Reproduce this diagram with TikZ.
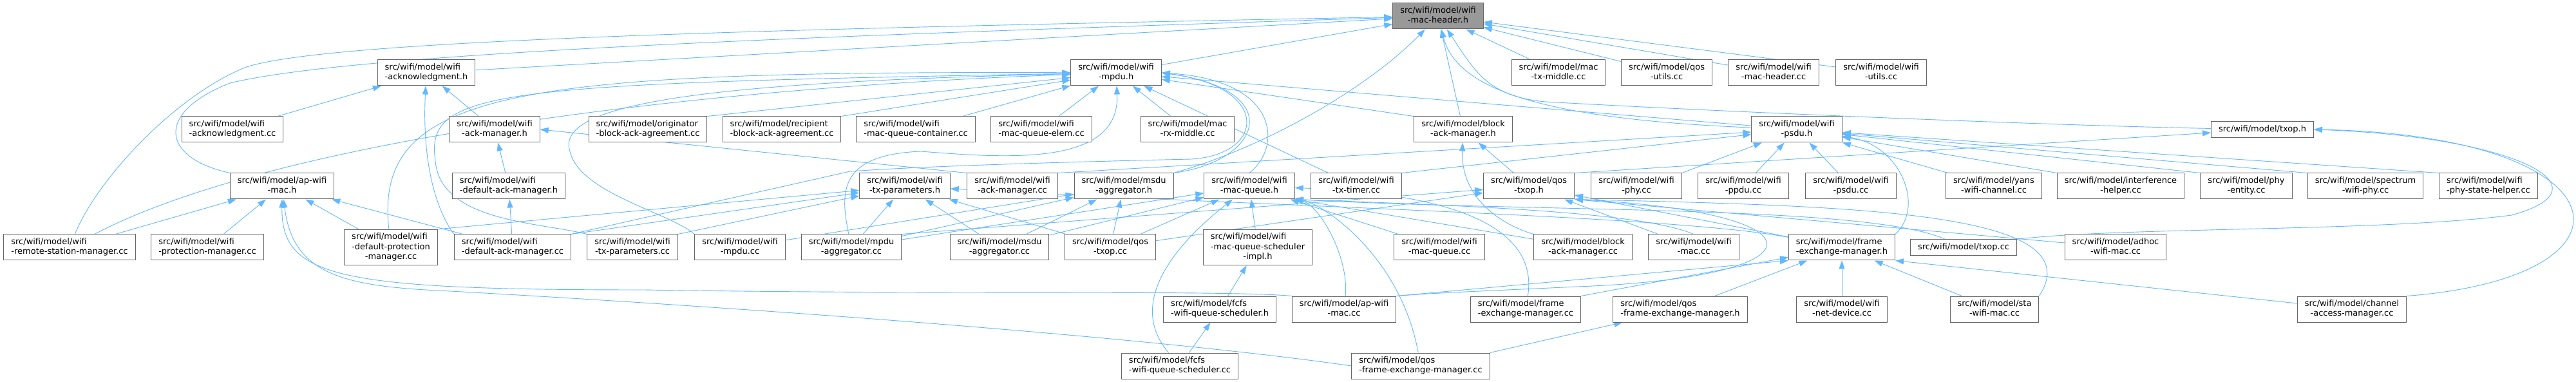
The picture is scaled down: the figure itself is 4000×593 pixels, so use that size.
\documentclass[tikz,border=0pt]{standalone}
\usepackage{fontspec}
\setmainfont{DejaVu Sans}
\usetikzlibrary{arrows.meta,backgrounds}
\definecolor{edgeblue}{HTML}{63B8FF}
\definecolor{boxgray}{HTML}{666666}
\definecolor{rootgray}{HTML}{999999}
\newcommand{\fileone}[1]{\begin{tabular}{@{}l@{}}#1\end{tabular}}
\newcommand{\filetwo}[2]{\begin{tabular}{@{}l@{}}#1\\\multicolumn{1}{@{}c@{}}{#2}\end{tabular}}
\newcommand{\filethree}[3]{\begin{tabular}{@{}l@{}}#1\\#2\\\multicolumn{1}{@{}c@{}}{#3}\end{tabular}}
\tikzset{
  filebox/.style={shape=rectangle,draw=boxgray,fill=white,line width=1pt,inner xsep=11.5pt,inner ysep=4.5pt,font=\fontsize{13}{15.5}\selectfont},
  rootbox/.style={filebox,fill=rootgray},
  dep/.style={draw=edgeblue,line width=0.9pt,{Triangle[length=13pt,width=9pt]}-}
}
\begin{document}
\begin{tikzpicture}[x=1pt,y=-1pt]
        \useasboundingbox (0,0) rectangle (4000,593);
        \node[rootbox] (0) at (2233,25) {\filetwo{src/wifi/model/wifi}{-mac-header.h}};
        \node[filebox] (1) at (662,113) {\filetwo{src/wifi/model/wifi}{-acknowledgment.h}};
        \node[filebox] (2) at (1733,113) {\filetwo{src/wifi/model/wifi}{-mpdu.h}};
        \node[filebox] (3) at (2420,113) {\filetwo{src/wifi/model/mac}{-tx-middle.cc}};
        \node[filebox] (4) at (2588,113) {\filetwo{src/wifi/model/qos}{-utils.cc}};
        \node[filebox] (5) at (2754,113) {\filetwo{src/wifi/model/wifi}{-mac-header.cc}};
        \node[filebox] (6) at (2921,113) {\filetwo{src/wifi/model/wifi}{-utils.cc}};
        \node[filebox] (7) at (361,201) {\filetwo{src/wifi/model/wifi}{-acknowledgment.cc}};
        \node[filebox] (8) at (768,201) {\filetwo{src/wifi/model/wifi}{-ack-manager.h}};
        \node[filebox] (9) at (1006,201) {\filetwo{src/wifi/model/originator}{-block-ack-agreement.cc}};
        \node[filebox] (10) at (1214,201) {\filetwo{src/wifi/model/recipient}{-block-ack-agreement.cc}};
        \node[filebox] (11) at (1422,201) {\filetwo{src/wifi/model/wifi}{-mac-queue-container.cc}};
        \node[filebox] (12) at (1617,201) {\filetwo{src/wifi/model/wifi}{-mac-queue-elem.cc}};
        \node[filebox] (13) at (1844,201) {\filetwo{src/wifi/model/mac}{-rx-middle.cc}};
        \node[filebox] (14) at (2272,201) {\filetwo{src/wifi/model/block}{-ack-manager.h}};
        \node[filebox] (15) at (2790,201) {\filetwo{src/wifi/model/wifi}{-psdu.h}};
        \node[filebox] (16) at (3513,201) {\fileone{src/wifi/model/txop.h}};
        \node[filebox] (17) at (438,289) {\filetwo{src/wifi/model/ap-wifi}{-mac.h}};
        \node[filebox] (18) at (790,289) {\filetwo{src/wifi/model/wifi}{-default-ack-manager.h}};
        \node[filebox] (19) at (1405,289) {\filetwo{src/wifi/model/wifi}{-tx-parameters.h}};
        \node[filebox] (20) at (1572,289) {\filetwo{src/wifi/model/wifi}{-ack-manager.cc}};
        \node[filebox] (21) at (1745,289) {\filetwo{src/wifi/model/msdu}{-aggregator.h}};
        \node[filebox] (22) at (1940,289) {\filetwo{src/wifi/model/wifi}{-mac-queue.h}};
        \node[filebox] (23) at (2106,289) {\filetwo{src/wifi/model/wifi}{-tx-timer.cc}};
        \node[filebox] (24) at (2374,289) {\filetwo{src/wifi/model/qos}{-txop.h}};
        \node[filebox] (25) at (2541,289) {\filetwo{src/wifi/model/wifi}{-phy.cc}};
        \node[filebox] (26) at (2707,289) {\filetwo{src/wifi/model/wifi}{-ppdu.cc}};
        \node[filebox] (27) at (2874,289) {\filetwo{src/wifi/model/wifi}{-psdu.cc}};
        \node[filebox] (28) at (3096,289) {\filetwo{src/wifi/model/yans}{-wifi-channel.cc}};
        \node[filebox] (29) at (3293,289) {\filetwo{src/wifi/model/interference}{-helper.cc}};
        \node[filebox] (30) at (3488,289) {\filetwo{src/wifi/model/phy}{-entity.cc}};
        \node[filebox] (31) at (3673,289) {\filetwo{src/wifi/model/spectrum}{-wifi-phy.cc}};
        \node[filebox] (32) at (3864,289) {\filetwo{src/wifi/model/wifi}{-phy-state-helper.cc}};
        \node[filebox] (33) at (108,384) {\filetwo{src/wifi/model/wifi}{-remote-station-manager.cc}};
        \node[filebox] (34) at (322,384) {\filetwo{src/wifi/model/wifi}{-protection-manager.cc}};
        \node[filebox] (35) at (607,384) {\filethree{src/wifi/model/wifi}{-default-protection}{-manager.cc}};
        \node[filebox] (36) at (796,384) {\filetwo{src/wifi/model/wifi}{-default-ack-manager.cc}};
        \node[filebox] (37) at (982,384) {\filetwo{src/wifi/model/wifi}{-tx-parameters.cc}};
        \node[filebox] (38) at (1149,384) {\filetwo{src/wifi/model/wifi}{-mpdu.cc}};
        \node[filebox] (39) at (1322,384) {\filetwo{src/wifi/model/mpdu}{-aggregator.cc}};
        \node[filebox] (40) at (1552,384) {\filetwo{src/wifi/model/msdu}{-aggregator.cc}};
        \node[filebox] (41) at (1724,384) {\filetwo{src/wifi/model/qos}{-txop.cc}};
        \node[filebox] (42) at (1953,384) {\filethree{src/wifi/model/wifi}{-mac-queue-scheduler}{-impl.h}};
        \node[filebox] (43) at (2235,384) {\filetwo{src/wifi/model/wifi}{-mac-queue.cc}};
        \node[filebox] (44) at (2458,384) {\filetwo{src/wifi/model/block}{-ack-manager.cc}};
        \node[filebox] (45) at (2630,384) {\filetwo{src/wifi/model/wifi}{-mac.cc}};
        \node[filebox] (46) at (2860,384) {\filetwo{src/wifi/model/frame}{-exchange-manager.h}};
        \node[filebox] (47) at (3049,384) {\fileone{src/wifi/model/txop.cc}};
        \node[filebox] (48) at (3285,384) {\filetwo{src/wifi/model/adhoc}{-wifi-mac.cc}};
        \node[filebox] (49) at (1894,480) {\filetwo{src/wifi/model/fcfs}{-wifi-queue-scheduler.h}};
        \node[filebox] (50) at (2087,480) {\filetwo{src/wifi/model/ap-wifi}{-mac.cc}};
        \node[filebox] (51) at (2369,480) {\filetwo{src/wifi/model/frame}{-exchange-manager.cc}};
        \node[filebox] (52) at (2609,480) {\filetwo{src/wifi/model/qos}{-frame-exchange-manager.h}};
        \node[filebox] (53) at (2860,480) {\filetwo{src/wifi/model/wifi}{-net-device.cc}};
        \node[filebox] (54) at (3097,480) {\filetwo{src/wifi/model/sta}{-wifi-mac.cc}};
        \node[filebox] (55) at (3652,480) {\filetwo{src/wifi/model/channel}{-access-manager.cc}};
        \node[filebox] (56) at (1832,568) {\filetwo{src/wifi/model/fcfs}{-wifi-queue-scheduler.cc}};
        \node[filebox] (57) at (2206,568) {\filetwo{src/wifi/model/qos}{-frame-exchange-manager.cc}};
        \begin{scope}[on background layer]
          \fill[white] (0,0) rectangle (4000,593);
          \draw (0) edge[dep] (1);
          \draw (0) edge[dep] (2);
          \draw[dep] (0) .. controls (1200,45) and (500,62) .. (380,105) .. controls (270,150) and (150,280) .. (33);
          \draw[dep] (0) .. controls (1300,55) and (560,80) .. (357,129) .. controls (240,175) and (250,245) .. (17.north west);
          \draw[dep] (0) .. controls (2120,140) and (1960,230) .. (21.north east);
          \draw (0) edge[dep] (14);
          \draw[dep] (0) .. controls (2262,140) and (2400,185) .. (15);
          \draw[dep] (0) .. controls (2290,110) and (2310,150) .. (2400,158) .. controls (2700,175) and (3200,195) .. (16);
          \draw (0) edge[dep] (3);
          \draw (0) edge[dep] (4);
          \draw (0) edge[dep] (5);
          \draw (0) edge[dep] (6);
          \draw (1) edge[dep] (7);
          \draw (1) edge[dep] (8);
          \draw[dep] (1) .. controls (655,260) and (680,330) .. (36.north west);
          \draw (8) edge[dep] (18);
          \draw[dep] (8.east) -- (20.north west);
          \draw (18) edge[dep] (36);
          \draw (17) edge[dep] (33);
          \draw (17) edge[dep] (34);
          \draw (17) edge[dep] (35);
          \draw (17) edge[dep] (36);
          \draw[dep] (17) .. controls (437,430) and (520,450) .. (1000,450) .. controls (1500,458) and (1900,450) .. (50.north west);
          \draw[dep] (17) .. controls (455,430) and (540,445) .. (700,452) .. controls (1200,480) and (1800,525) .. (57.west);
          \draw[dep] (2) .. controls (1000,140) and (400,230) .. (33);
          \draw[dep] (2) .. controls (800,110) and (580,140) .. (35);
          \draw[dep] (2) .. controls (760,130) and (660,140) .. (676,250) .. controls (684,345) and (840,345) .. (37.north west);
          \draw[dep] (2) .. controls (1100,128) and (860,160) .. (885,235) .. controls (900,300) and (1040,330) .. (38.north west);
          \draw[dep] (2.east) .. controls (1975,135) and (1965,240) .. (1850,247) .. controls (1500,255) and (1380,262) .. (1320,266) -- (36.north east);
          \draw[dep] (2) -- (9.north east);
          \draw[dep] (2) -- (10.north east);
          \draw (2) edge[dep] (11);
          \draw (2) edge[dep] (12);
          \draw (2) edge[dep] (13);
          \draw[dep] (2) .. controls (1740,260) and (1560,245) .. (1430,235) .. controls (1300,240) and (1305,300) .. (39);
          \draw[dep] (2) -- (14.north west);
          \draw (2) edge[dep] (15);
          \draw[dep] (2.east) .. controls (1990,125) and (1990,230) .. (22.north);
          \draw (2) edge[dep] (23);
          \draw[dep] (2.east) .. controls (2000,140) and (1960,250) .. (21.north east);
          \draw[dep] (19) -- (35.north east);
          \draw[dep] (19) -- (36.north east);
          \draw[dep] (19) -- (37.north east);
          \draw (19) edge[dep] (39);
          \draw (19) edge[dep] (40);
          \draw (19) edge[dep] (41);
          \draw[dep] (19) .. controls (2000,322) and (2600,335) .. (46);
          \draw (21) edge[dep] (38);
          \draw (21) edge[dep] (39);
          \draw (21) edge[dep] (40);
          \draw (21) edge[dep] (41);
          \draw (22) edge[dep] (42);
          \draw[dep] (22) .. controls (1850,360) and (1740,460) .. (56);
          \draw (22) edge[dep] (43);
          \draw[dep] (22.south east) -- (44);
          \draw[dep] (22.south east) .. controls (2300,320) and (2550,330) .. (45.north);
          \draw[dep] (22) .. controls (2250,300) and (2390,350) .. (51);
          \draw[dep] (22) .. controls (2050,320) and (2095,400) .. (50);
          \draw[dep] (22) .. controls (2060,320) and (2175,400) .. (57);
          \draw (22) edge[dep] (39);
          \draw (22) edge[dep] (40);
          \draw (22) edge[dep] (41);
          \draw[dep] (22.south east) .. controls (2400,330) and (2900,318) .. (47);
          \draw (24) edge[dep] (41);
          \draw[dep] (24) -- (39.north east);
          \draw (24) edge[dep] (45);
          \draw (24) edge[dep] (46);
          \draw[dep] (24.south east) -- (48);
          \draw[dep] (24.south east) .. controls (2900,320) and (3250,330) .. (54.north east);
          \draw[dep] (24.south east) .. controls (2840,330) and (2840,430) .. (2450,445) .. controls (2300,452) and (2220,455) .. (50.north east);
          \draw[dep] (14) .. controls (2268,300) and (2320,345) .. (44.north west);
          \draw (14) edge[dep] (24);
          \draw[dep] (15) -- (20.north east);
          \draw[dep] (15) -- (23.north east);
          \draw[dep] (15) -- (25.north east);
          \draw (15) edge[dep] (26);
          \draw (15) edge[dep] (27);
          \draw (15) edge[dep] (28);
          \draw[dep] (15) -- (29.north west);
          \draw[dep] (15) -- (30.north west);
          \draw[dep] (15) -- (31.north west);
          \draw[dep] (15) -- (32.north west);
          \draw[dep] (15) .. controls (2950,225) and (2990,320) .. (46.north east);
          \draw[dep] (46) -- (51.north east);
          \draw[dep] (46.south west) -- (50.north east);
          \draw (46) edge[dep] (52);
          \draw (46) edge[dep] (53);
          \draw (46) edge[dep] (54);
          \draw[dep] (46.south east) -- (55);
          \draw[dep] (52) -- (57.north east);
          \draw[dep] (16) -- (24.north east);
          \draw[dep] (16.east) .. controls (3900,212) and (4060,290) .. (3900,334) .. controls (3700,360) and (3300,352) .. (47.north east);
          \draw[dep] (16.east) .. controls (4080,210) and (4120,430) .. (55.north east);
          \draw (42) edge[dep] (49);
          \draw (49) edge[dep] (56);
        \end{scope}
      \end{tikzpicture}
\end{document}
